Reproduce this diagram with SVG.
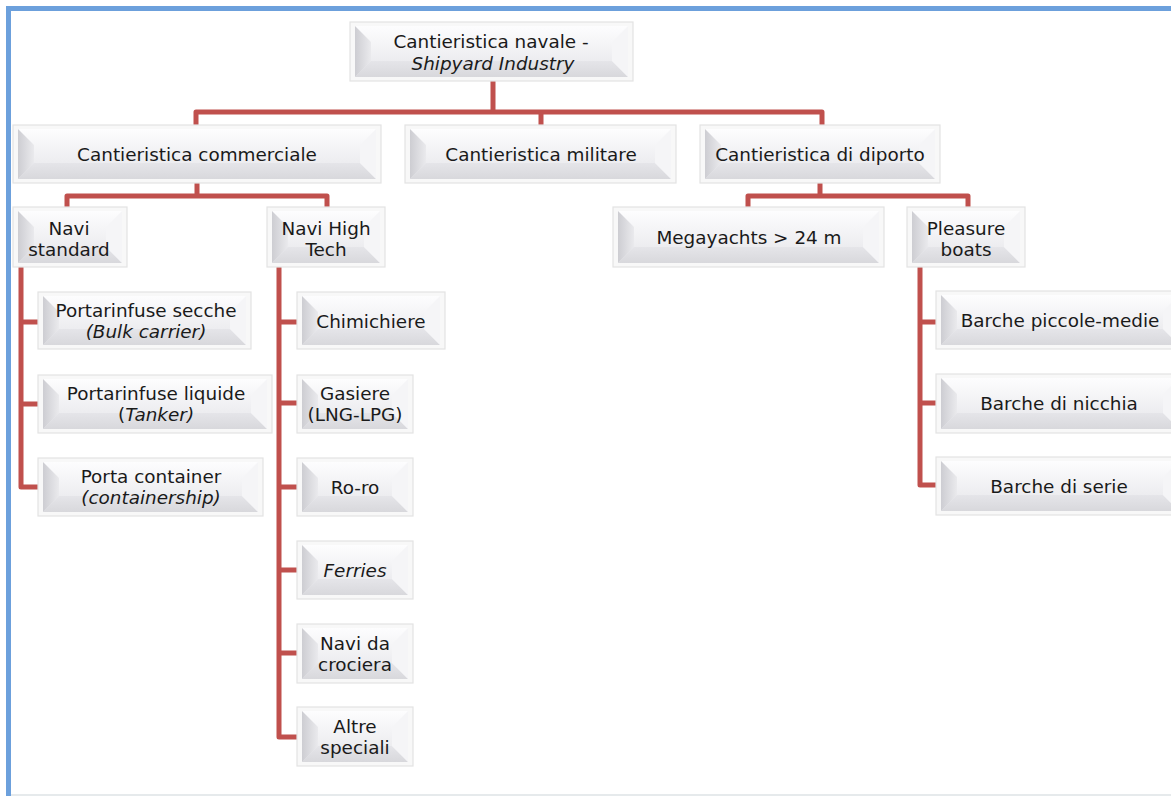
<svg xmlns="http://www.w3.org/2000/svg" width="1171" height="796" viewBox="0 0 1171 796">
<defs>
<linearGradient id="face" x1="0" y1="0" x2="0" y2="1"><stop offset="0" stop-color="#fdfdfe"/><stop offset="1" stop-color="#e5e5e9"/></linearGradient>
<linearGradient id="lb" x1="0" y1="0" x2="1" y2="0"><stop offset="0" stop-color="#cdcdd2"/><stop offset="1" stop-color="#eaeaed"/></linearGradient>
<linearGradient id="bb" x1="0" y1="0" x2="0" y2="1"><stop offset="0" stop-color="#e5e5e9"/><stop offset="1" stop-color="#d8d8dc"/></linearGradient>
<style>
.o{fill:#f8f8f8;stroke:#e3e3e3;stroke-width:1.2}
.i{fill:url(#face)}
.l{fill:url(#lb)}
.b{fill:url(#bb)}
.r{fill:#f5f5f7}
.t{font-family:"DejaVu Sans",Verdana,sans-serif;font-size:18.4px;fill:#1a1a1a;text-anchor:middle}
.it{font-style:italic}
.c{fill:none;stroke:#c0504d;stroke-width:5;stroke-linejoin:round}
.f{fill:none;stroke:#6ca0dc;stroke-width:5}
</style>
</defs>
<rect width="1171" height="796" fill="#fff"/>
<path class="f" d="M8.5 796 V8.5 H1171"/>
<line x1="11" y1="795" x2="1171" y2="795" stroke="#e6eaec" stroke-width="2"/>

<g id="connectors">
<path class="c" d="M493 81 V112 M196 125 V112 H822 V125 M541 112 V125"/>
<path class="c" d="M197 183 V196 M67 208 V196 H327 V208"/>
<path class="c" d="M820 183 V196 M748 208 V196 H968 V208"/>
<path class="c" d="M21 267 V487 H38 M21 322 H38 M21 404 H38"/>
<path class="c" d="M279 267 V737 H297 M279 322 H297 M279 403 H297 M279 487 H297 M279 570 H297 M279 653 H297"/>
<path class="c" d="M920 267 V485 H936 M920 322 H936 M920 403 H936"/>
</g>

<g id="n-root">
<rect class="o" x="350" y="22" width="283" height="59"/>
<rect class="i" x="355" y="26" width="273" height="51"/>
<path class="l" d="M355 26 L371 42 L371 61 L355 77 Z"/>
<path class="b" d="M355 77 L371 61 L612 61 L628 77 Z"/>
<path class="r" d="M628 26 L628 77 L612 61 L612 42 Z"/>
<text class="t" x="491" y="48">Cantieristica navale -</text>
<text class="t it" x="493" y="70">Shipyard Industry</text>
</g>

<g id="n-commerciale">
<rect class="o" x="13" y="125" width="368" height="58"/>
<rect class="i" x="18" y="129" width="358" height="50"/>
<path class="l" d="M18 129 L34 145 L34 163 L18 179 Z"/>
<path class="b" d="M18 179 L34 163 L360 163 L376 179 Z"/>
<path class="r" d="M376 129 L376 179 L360 163 L360 145 Z"/>
<text class="t" x="197" y="161">Cantieristica commerciale</text>
</g>

<g id="n-militare">
<rect class="o" x="405" y="125" width="271" height="58"/>
<rect class="i" x="410" y="129" width="261" height="50"/>
<path class="l" d="M410 129 L426 145 L426 163 L410 179 Z"/>
<path class="b" d="M410 179 L426 163 L655 163 L671 179 Z"/>
<path class="r" d="M671 129 L671 179 L655 163 L655 145 Z"/>
<text class="t" x="541" y="161">Cantieristica militare</text>
</g>

<g id="n-diporto">
<rect class="o" x="700" y="125" width="240" height="58"/>
<rect class="i" x="705" y="129" width="230" height="50"/>
<path class="l" d="M705 129 L721 145 L721 163 L705 179 Z"/>
<path class="b" d="M705 179 L721 163 L919 163 L935 179 Z"/>
<path class="r" d="M935 129 L935 179 L919 163 L919 145 Z"/>
<text class="t" x="820" y="161">Cantieristica di diporto</text>
</g>

<g id="n-navistandard">
<rect class="o" x="13" y="207" width="114" height="60"/>
<rect class="i" x="18" y="211" width="104" height="52"/>
<path class="l" d="M18 211 L34 227 L34 247 L18 263 Z"/>
<path class="b" d="M18 263 L34 247 L106 247 L122 263 Z"/>
<path class="r" d="M122 211 L122 263 L106 247 L106 227 Z"/>
<text class="t" x="69" y="235">Navi</text>
<text class="t" x="69" y="256">standard</text>
</g>

<g id="n-navihightech">
<rect class="o" x="267" y="207" width="118" height="60"/>
<rect class="i" x="272" y="211" width="108" height="52"/>
<path class="l" d="M272 211 L288 227 L288 247 L272 263 Z"/>
<path class="b" d="M272 263 L288 247 L364 247 L380 263 Z"/>
<path class="r" d="M380 211 L380 263 L364 247 L364 227 Z"/>
<text class="t" x="326" y="235">Navi High</text>
<text class="t" x="326" y="256">Tech</text>
</g>

<g id="n-megayachts">
<rect class="o" x="613" y="207" width="271" height="60"/>
<rect class="i" x="618" y="211" width="261" height="52"/>
<path class="l" d="M618 211 L634 227 L634 247 L618 263 Z"/>
<path class="b" d="M618 263 L634 247 L863 247 L879 263 Z"/>
<path class="r" d="M879 211 L879 263 L863 247 L863 227 Z"/>
<text class="t" x="749" y="244">Megayachts &gt; 24 m</text>
</g>

<g id="n-pleasure">
<rect class="o" x="907" y="207" width="118" height="60"/>
<rect class="i" x="912" y="211" width="108" height="52"/>
<path class="l" d="M912 211 L928 227 L928 247 L912 263 Z"/>
<path class="b" d="M912 263 L928 247 L1004 247 L1020 263 Z"/>
<path class="r" d="M1020 211 L1020 263 L1004 247 L1004 227 Z"/>
<text class="t" x="966" y="235">Pleasure</text>
<text class="t" x="966" y="256">boats</text>
</g>

<g id="n-secche">
<rect class="o" x="38" y="292" width="213" height="57"/>
<rect class="i" x="43" y="296" width="203" height="49"/>
<path class="l" d="M43 296 L59 312 L59 329 L43 345 Z"/>
<path class="b" d="M43 345 L59 329 L230 329 L246 345 Z"/>
<path class="r" d="M246 296 L246 345 L230 329 L230 312 Z"/>
<text class="t" x="146" y="317">Portarinfuse secche</text>
<text class="t it" x="146" y="338">(Bulk carrier)</text>
</g>

<g id="n-liquide">
<rect class="o" x="38" y="375" width="234" height="58"/>
<rect class="i" x="43" y="379" width="224" height="50"/>
<path class="l" d="M43 379 L59 395 L59 413 L43 429 Z"/>
<path class="b" d="M43 429 L59 413 L251 413 L267 429 Z"/>
<path class="r" d="M267 379 L267 429 L251 413 L251 395 Z"/>
<text class="t" x="156" y="400">Portarinfuse liquide</text>
<text class="t" x="156" y="421">(<tspan class="it">Tanker)</tspan></text>
</g>

<g id="n-container">
<rect class="o" x="38" y="458" width="225" height="58"/>
<rect class="i" x="43" y="462" width="215" height="50"/>
<path class="l" d="M43 462 L59 478 L59 496 L43 512 Z"/>
<path class="b" d="M43 512 L59 496 L242 496 L258 512 Z"/>
<path class="r" d="M258 462 L258 512 L242 496 L242 478 Z"/>
<text class="t" x="151" y="483">Porta container</text>
<text class="t it" x="151" y="504">(containership)</text>
</g>

<g id="n-chimichiere">
<rect class="o" x="297" y="292" width="148" height="57"/>
<rect class="i" x="302" y="296" width="138" height="49"/>
<path class="l" d="M302 296 L318 312 L318 329 L302 345 Z"/>
<path class="b" d="M302 345 L318 329 L424 329 L440 345 Z"/>
<path class="r" d="M440 296 L440 345 L424 329 L424 312 Z"/>
<text class="t" x="371" y="328">Chimichiere</text>
</g>

<g id="n-gasiere">
<rect class="o" x="297" y="375" width="116" height="58"/>
<rect class="i" x="302" y="379" width="106" height="50"/>
<path class="l" d="M302 379 L318 395 L318 413 L302 429 Z"/>
<path class="b" d="M302 429 L318 413 L392 413 L408 429 Z"/>
<path class="r" d="M408 379 L408 429 L392 413 L392 395 Z"/>
<text class="t" x="355" y="400">Gasiere</text>
<text class="t" x="355" y="421">(LNG-LPG)</text>
</g>

<g id="n-roro">
<rect class="o" x="297" y="458" width="116" height="58"/>
<rect class="i" x="302" y="462" width="106" height="50"/>
<path class="l" d="M302 462 L318 478 L318 496 L302 512 Z"/>
<path class="b" d="M302 512 L318 496 L392 496 L408 512 Z"/>
<path class="r" d="M408 462 L408 512 L392 496 L392 478 Z"/>
<text class="t" x="355" y="494">Ro-ro</text>
</g>

<g id="n-ferries">
<rect class="o" x="297" y="541" width="116" height="58"/>
<rect class="i" x="302" y="545" width="106" height="50"/>
<path class="l" d="M302 545 L318 561 L318 579 L302 595 Z"/>
<path class="b" d="M302 595 L318 579 L392 579 L408 595 Z"/>
<path class="r" d="M408 545 L408 595 L392 579 L392 561 Z"/>
<text class="t it" x="355" y="577">Ferries</text>
</g>

<g id="n-crociera">
<rect class="o" x="297" y="624" width="116" height="59"/>
<rect class="i" x="302" y="628" width="106" height="51"/>
<path class="l" d="M302 628 L318 644 L318 663 L302 679 Z"/>
<path class="b" d="M302 679 L318 663 L392 663 L408 679 Z"/>
<path class="r" d="M408 628 L408 679 L392 663 L392 644 Z"/>
<text class="t" x="355" y="650">Navi da</text>
<text class="t" x="355" y="671">crociera</text>
</g>

<g id="n-altre">
<rect class="o" x="297" y="707" width="116" height="59"/>
<rect class="i" x="302" y="711" width="106" height="51"/>
<path class="l" d="M302 711 L318 727 L318 746 L302 762 Z"/>
<path class="b" d="M302 762 L318 746 L392 746 L408 762 Z"/>
<path class="r" d="M408 711 L408 762 L392 746 L392 727 Z"/>
<text class="t" x="355" y="733">Altre</text>
<text class="t" x="355" y="754">speciali</text>
</g>

<g id="n-piccole">
<rect class="o" x="936" y="291" width="248" height="58"/>
<rect class="i" x="941" y="295" width="238" height="50"/>
<path class="l" d="M941 295 L957 311 L957 329 L941 345 Z"/>
<path class="b" d="M941 345 L957 329 L1163 329 L1179 345 Z"/>
<path class="r" d="M1179 295 L1179 345 L1163 329 L1163 311 Z"/>
<text class="t" x="1060" y="327">Barche piccole-medie</text>
</g>

<g id="n-nicchia">
<rect class="o" x="936" y="374" width="248" height="59"/>
<rect class="i" x="941" y="378" width="238" height="51"/>
<path class="l" d="M941 378 L957 394 L957 413 L941 429 Z"/>
<path class="b" d="M941 429 L957 413 L1163 413 L1179 429 Z"/>
<path class="r" d="M1179 378 L1179 429 L1163 413 L1163 394 Z"/>
<text class="t" x="1059" y="410">Barche di nicchia</text>
</g>

<g id="n-serie">
<rect class="o" x="936" y="457" width="248" height="58"/>
<rect class="i" x="941" y="461" width="238" height="50"/>
<path class="l" d="M941 461 L957 477 L957 495 L941 511 Z"/>
<path class="b" d="M941 511 L957 495 L1163 495 L1179 511 Z"/>
<path class="r" d="M1179 461 L1179 511 L1163 495 L1163 477 Z"/>
<text class="t" x="1059" y="493">Barche di serie</text>
</g>
</svg>
